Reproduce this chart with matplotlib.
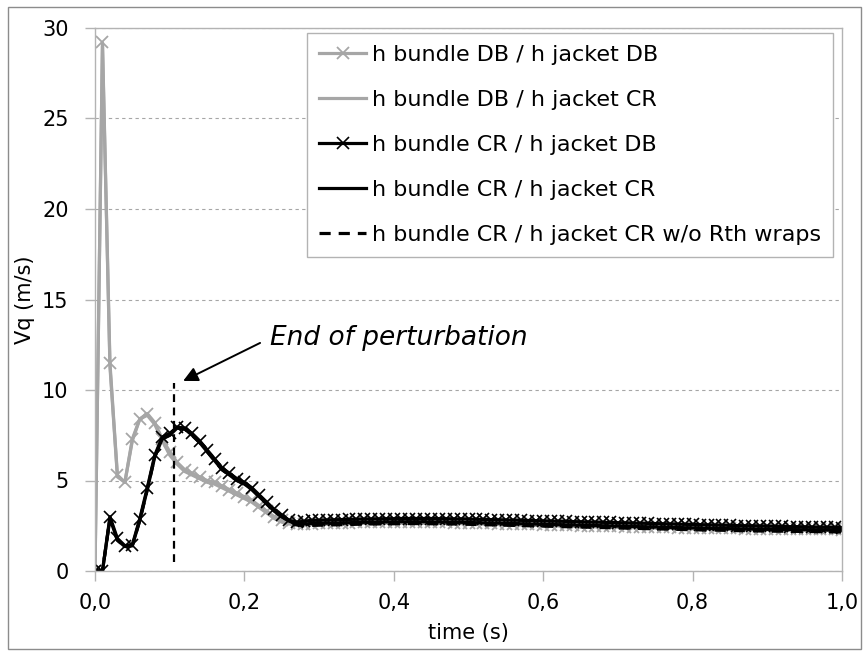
import numpy as np
import matplotlib
matplotlib.use("Agg")
import matplotlib.pyplot as plt
from matplotlib.patches import Rectangle
from matplotlib.ticker import FuncFormatter, MultipleLocator

plt.rcParams["font.family"] = ["DejaVu Sans"]

# time grid, one sample every 10 ms
time = np.linspace(0.0, 1.0, 101)

vq_db_db = [
    0, 29.2, 11.5, 5.3, 4.9, 7.3, 8.4, 8.7, 8.2, 7.3,
    6.6, 6.0, 5.6, 5.4, 5.2, 5.0, 4.9, 4.7, 4.5, 4.3,
    4.1, 3.9, 3.6, 3.3, 3.0, 2.8, 2.65, 2.6, 2.6, 2.62,
    2.63, 2.64, 2.65, 2.66, 2.67, 2.68, 2.68, 2.69, 2.69, 2.7,
    2.7, 2.7, 2.7, 2.7, 2.69, 2.69, 2.68, 2.68, 2.67, 2.67,
    2.66, 2.65, 2.64, 2.63, 2.62, 2.61, 2.6, 2.59, 2.58, 2.57,
    2.56, 2.55, 2.54, 2.53, 2.52, 2.51, 2.5, 2.49, 2.48, 2.47,
    2.46, 2.45, 2.44, 2.44, 2.43, 2.42, 2.41, 2.41, 2.4, 2.39,
    2.38, 2.38, 2.37, 2.36, 2.36, 2.35, 2.35, 2.34, 2.34, 2.33,
    2.33, 2.32, 2.32, 2.31, 2.31, 2.31, 2.3, 2.3, 2.3, 2.3,
    2.29,
]
vq_db_cr = [
    0, 29.0, 11.3, 5.2, 4.9, 7.2, 8.4, 8.6, 8.1, 7.2,
    6.4, 5.9, 5.5, 5.3, 5.1, 4.9, 4.8, 4.6, 4.4, 4.2,
    4.0, 3.8, 3.5, 3.2, 2.9, 2.7, 2.6, 2.55, 2.55, 2.57,
    2.58, 2.59, 2.6, 2.61, 2.62, 2.63, 2.63, 2.64, 2.64, 2.65,
    2.65, 2.65, 2.65, 2.65, 2.64, 2.64, 2.63, 2.63, 2.62, 2.62,
    2.61, 2.6, 2.59, 2.58, 2.57, 2.56, 2.55, 2.54, 2.53, 2.52,
    2.51, 2.5, 2.49, 2.48, 2.47, 2.46, 2.45, 2.44, 2.43, 2.42,
    2.41, 2.4, 2.39, 2.39, 2.38, 2.37, 2.36, 2.36, 2.35, 2.34,
    2.33, 2.33, 2.32, 2.31, 2.31, 2.3, 2.3, 2.29, 2.29, 2.28,
    2.28, 2.27, 2.27, 2.26, 2.26, 2.26, 2.25, 2.25, 2.25, 2.25,
    2.24,
]
vq_cr_db = [
    0, 0, 3.0, 1.8, 1.4, 1.45, 2.9, 4.6, 6.4, 7.4,
    7.6, 7.95, 7.9, 7.6, 7.2, 6.7, 6.2, 5.7, 5.4, 5.1,
    4.9, 4.6, 4.2, 3.8, 3.4, 3.1, 2.8, 2.7, 2.75, 2.8,
    2.8, 2.82, 2.83, 2.84, 2.85, 2.86, 2.87, 2.88, 2.88, 2.89,
    2.89, 2.9, 2.9, 2.9, 2.9, 2.9, 2.89, 2.89, 2.88, 2.88,
    2.87, 2.86, 2.85, 2.84, 2.83, 2.82, 2.81, 2.8, 2.79, 2.78,
    2.77, 2.76, 2.75, 2.74, 2.73, 2.72, 2.71, 2.7, 2.69, 2.68,
    2.67, 2.66, 2.65, 2.64, 2.63, 2.62, 2.61, 2.6, 2.59, 2.58,
    2.57, 2.56, 2.55, 2.54, 2.53, 2.52, 2.51, 2.5, 2.5, 2.49,
    2.48, 2.47, 2.46, 2.45, 2.45, 2.44, 2.43, 2.42, 2.42, 2.41,
    2.4,
]
vq_cr_cr = [
    0, 0, 2.9, 1.7, 1.35, 1.4, 2.8, 4.5, 6.3, 7.3,
    7.5, 7.9, 7.85, 7.5, 7.1, 6.6, 6.1, 5.6, 5.3, 5.0,
    4.8, 4.5, 4.1, 3.7, 3.3, 3.0, 2.75, 2.6, 2.6, 2.62,
    2.63, 2.64, 2.65, 2.66, 2.67, 2.68, 2.69, 2.7, 2.7, 2.71,
    2.71, 2.72, 2.72, 2.72, 2.72, 2.71, 2.71, 2.7, 2.7, 2.69,
    2.68, 2.67, 2.66, 2.65, 2.64, 2.63, 2.62, 2.61, 2.6, 2.59,
    2.58, 2.57, 2.56, 2.55, 2.54, 2.53, 2.52, 2.51, 2.5, 2.49,
    2.48, 2.47, 2.46, 2.45, 2.44, 2.43, 2.42, 2.41, 2.4, 2.39,
    2.38, 2.37, 2.36, 2.35, 2.35, 2.34, 2.33, 2.32, 2.32, 2.31,
    2.3, 2.3, 2.29, 2.29, 2.28, 2.28, 2.27, 2.27, 2.26, 2.26,
    2.25,
]
vq_cr_cr_no_wraps = [
    0, 0, 2.9, 1.7, 1.35, 1.4, 2.8, 4.5, 6.3, 7.3,
    7.5, 7.9, 7.85, 7.5, 7.1, 6.6, 6.1, 5.6, 5.3, 5.0,
    4.8, 4.5, 4.1, 3.7, 3.3, 3.0, 2.75, 2.55, 2.5, 2.52,
    2.53, 2.54, 2.55, 2.56, 2.57, 2.58, 2.59, 2.6, 2.6, 2.61,
    2.61, 2.62, 2.62, 2.62, 2.62, 2.61, 2.61, 2.6, 2.6, 2.59,
    2.58, 2.57, 2.56, 2.55, 2.54, 2.53, 2.52, 2.51, 2.5, 2.49,
    2.48, 2.47, 2.46, 2.45, 2.44, 2.43, 2.42, 2.41, 2.4, 2.39,
    2.38, 2.37, 2.36, 2.35, 2.34, 2.33, 2.32, 2.31, 2.3, 2.29,
    2.28, 2.27, 2.26, 2.26, 2.25, 2.24, 2.23, 2.23, 2.22, 2.21,
    2.21, 2.2, 2.2, 2.19, 2.19, 2.18, 2.18, 2.17, 2.17, 2.16,
    2.16,
]

labels = [
    "h bundle DB / h jacket DB",
    "h bundle DB / h jacket CR",
    "h bundle CR / h jacket DB",
    "h bundle CR / h jacket CR",
    "h bundle CR / h jacket CR w/o Rth wraps",
]

t_end_perturbation = 0.106
GRAY = "#a6a6a6"
FRAME = "#b3b3b3"

fig = plt.figure(figsize=(8.67, 6.54), dpi=100)
ax = fig.add_axes([95 / 867, 83 / 654, 747 / 867, 543 / 654])

# outer chart border
fig.patches.append(
    Rectangle((8 / 867, 5 / 654), 853 / 867, 642 / 654, transform=fig.transFigure,
              fill=False, edgecolor="#8c8c8c", linewidth=1.0)
)

ax.plot(time, vq_db_db, color=GRAY, lw=2.3, marker="x", ms=9, mew=1.3, label=labels[0])
ax.plot(time, vq_db_cr, color=GRAY, lw=2.3, label=labels[1])
ax.plot(time, vq_cr_db, color="black", lw=2.3, marker="x", ms=9, mew=1.2, label=labels[2])
ax.plot(time, vq_cr_cr, color="black", lw=2.3, label=labels[3])
ax.plot(time, vq_cr_cr_no_wraps, color="black", lw=2.3, ls=(0, (3.5, 2.5)), label=labels[4])

# end of perturbation marker
ax.plot([t_end_perturbation, t_end_perturbation], [0.5, 10.4], color="black",
        lw=1.6, ls=(0, (3.5, 2.5)))
ax.annotate("", xy=(0.118, 10.5), xytext=(0.221, 12.6),
            arrowprops=dict(arrowstyle="-|>", color="black", lw=1.4, mutation_scale=22,
                            shrinkA=0, shrinkB=0))
ax.text(0.234, 12.9, "End of perturbation", fontsize=19, style="italic",
        ha="left", va="center")

ax.set_xlim(0, 1.0)
ax.set_ylim(0, 30)
ax.xaxis.set_major_locator(MultipleLocator(0.2))
ax.yaxis.set_major_locator(MultipleLocator(5))
ax.xaxis.set_major_formatter(FuncFormatter(lambda v, p: f"{v:.1f}".replace(".", ",")))
ax.yaxis.set_major_formatter(FuncFormatter(lambda v, p: f"{v:.0f}"))

ax.yaxis.grid(True, color=GRAY, ls=(0, (3, 3)), lw=0.8)
ax.set_axisbelow(True)
for side in ["top", "right", "left", "bottom"]:
    ax.spines[side].set_color(FRAME)
    ax.spines[side].set_linewidth(1.0)

ax.tick_params(axis="both", direction="out", length=7, width=1, color=FRAME,
               labelsize=15)
ax.tick_params(axis="y", pad=12)
ax.tick_params(axis="x", pad=9)

ax.set_xlabel("time (s)", fontsize=15, labelpad=7)
ax.set_ylabel("Vq (m/s)", fontsize=15, labelpad=5)

leg = ax.legend(loc="upper right", bbox_to_anchor=(0.988, 0.991), fontsize=16,
                frameon=True, fancybox=False, framealpha=1, edgecolor=FRAME,
                handlelength=2.1, handletextpad=0.25, labelspacing=1.12,
                borderpad=0.55, borderaxespad=0)
leg.get_frame().set_linewidth(1.0)

fig.savefig("out.png", dpi=100)
